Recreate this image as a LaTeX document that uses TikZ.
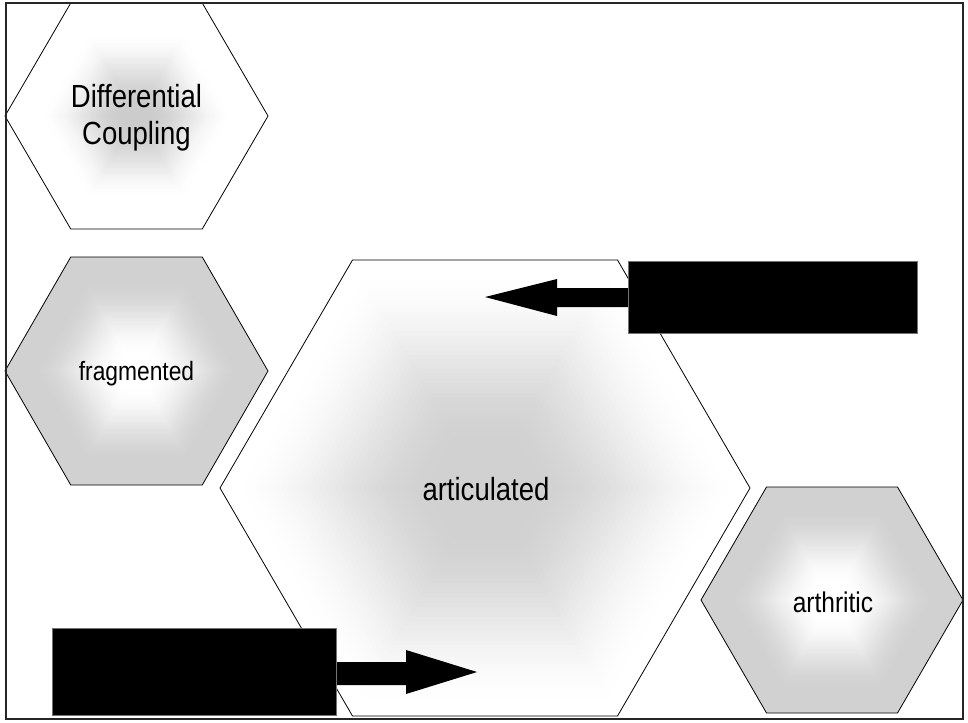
\documentclass[tikz,border=0pt]{standalone}
\usepackage{fontspec}
\setmainfont[FakeStretch=0.86]{Liberation Sans}
\begin{document}
\begin{tikzpicture}[x=1pt,y=-1pt,
  hexline/.style={draw=black, line width=0.8pt},
  hextext/.style={inner sep=0pt, align=center, text=black},
  blackbox/.style={fill=black, draw=black!55, line width=0.6pt, inner sep=0pt},
  blockarrow/.style={fill=black}]

% flat-topped hexagon with half-width #1 and half-height #2
\newcommand\hexpts[2]{(#1,0) -- (#1/2,#2) -- (-#1/2,#2) -- (-#1,0) -- (-#1/2,-#2) -- (#1/2,-#2) -- cycle}
% nested fills give a hexagonal gradient:
% #1,#2 centre, #3,#4 size, #5 peak grey, grey ramps from 0 at radius #6 to #5 at radius #7
\newcommand\hexshade[7]{%
  \foreach \k in {48,47,...,1}{%
    \pgfmathsetmacro\hs{\k/48}%
    \pgfmathsetmacro\hr{max(0,min(1,(\hs-#6)/(#7-#6)))}%
    \pgfmathsetmacro\hp{#5*\hr*\hr*(3-2*\hr)}%
    \fill[black!\hp!white, shift={(#1,#2)}, scale=\hs] \hexpts{#3}{#4};
  }%
  \draw[hexline, shift={(#1,#2)}] \hexpts{#3}{#4};
}

\useasboundingbox (0,0) rectangle (968,722);
\fill[white] (0,0) rectangle (968,722);

% hexagons
\hexshade{136.5}{116}{131.5}{113}{20}{0.75}{0.1}
\hexshade{136.5}{371}{131.5}{114}{18}{0.15}{0.8}
\hexshade{485}{488}{265}{228}{18}{0.97}{0.2}
\hexshade{832}{600}{131}{113}{18}{0.15}{0.8}

% labels
\node[hextext, font=\fontsize{32}{37}\selectfont] (dc) at (136.5,118) {Differential\\Coupling};
\node[hextext, font=\fontsize{26.5}{31}\selectfont] (frag) at (136.5,374) {fragmented};
\node[hextext, font=\fontsize{32}{37}\selectfont] (art) at (486,489) {articulated};
\node[hextext, font=\fontsize{28.5}{33}\selectfont] (arth) at (833,602) {arthritic};

% black boxes
\node[blackbox, minimum width=289pt, minimum height=72pt] (boxA) at (772.5,297) {};
\node[blackbox, minimum width=284pt, minimum height=87pt] (boxB) at (194,671.5) {};

% arrow tips
\coordinate (tipA) at (485,297);
\coordinate (tipB) at (477,672);

% block arrows from the boxes into the large hexagon
\fill[blockarrow] (tipA) -- ++(72,-18) -- ++(0,9)
  -- ([shift={(2,-9)}]boxA.west) -- ([shift={(2,10)}]boxA.west)
  -- ([shift={(72,10)}]tipA) -- ++(0,9) -- cycle;
\fill[blockarrow] (tipB) -- ++(-71,-22) -- ++(0,12)
  -- ([shift={(-2,-9.5)}]boxB.east) -- ([shift={(-2,13.5)}]boxB.east)
  -- ([shift={(-71,13)}]tipB) -- ++(0,9) -- cycle;

% boxes on top of the arrow shafts
\node[blackbox, minimum width=289pt, minimum height=72pt] at (boxA) {};
\node[blackbox, minimum width=284pt, minimum height=87pt] at (boxB) {};

% frame
\draw[line width=1.8pt, black!85] (6,3) rectangle (963,719);
\end{tikzpicture}
\end{document}
